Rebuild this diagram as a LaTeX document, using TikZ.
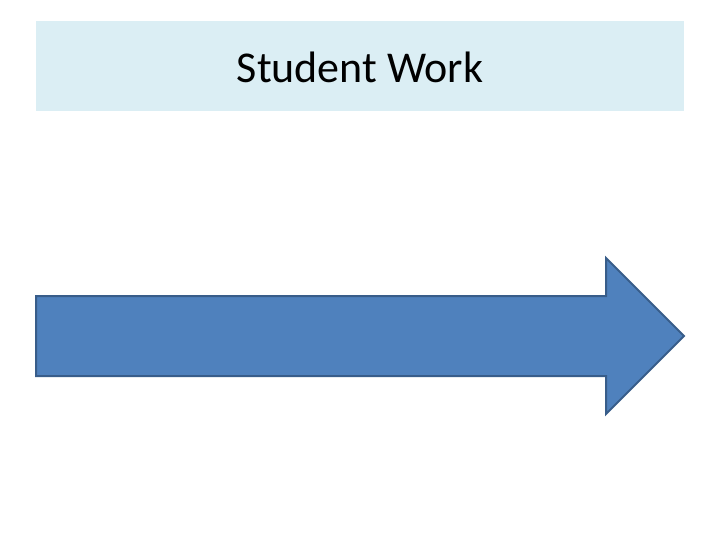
\documentclass[tikz,border=0pt]{standalone}
\usepackage{fontspec}
\setmainfont{Carlito}
\definecolor{titlefill}{HTML}{DBEEF4}
\definecolor{arrowfill}{HTML}{4F81BD}
\definecolor{arrowline}{HTML}{385D8A}
\begin{document}
\begin{tikzpicture}[x=1bp,y=-1bp,
  titlebox/.style={fill=titlefill,draw=none},
  bigarrow/.style={fill=arrowfill,draw=arrowline,line width=2bp,line join=miter}]
\useasboundingbox (0,0) rectangle (720,540);
\fill[titlebox] (36,21) rectangle (684,111);
\node[font=\fontsize{44bp}{52bp}\selectfont,inner sep=0pt] (title) at (360,67) {Student Work};
\draw[bigarrow] (36,296) -- (606,296) -- (606,258) -- (684,336) -- (606,414) -- (606,376) -- (36,376) -- cycle;
\end{tikzpicture}
\end{document}
